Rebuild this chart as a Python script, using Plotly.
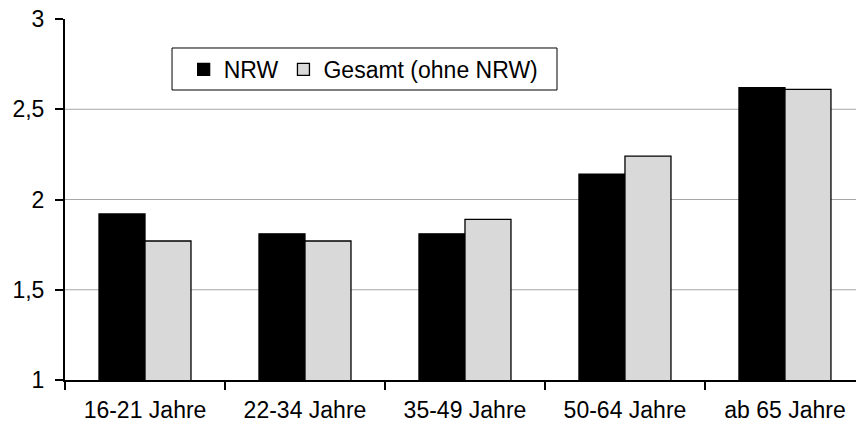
import plotly.graph_objects as go

categories = ["16-21 Jahre", "22-34 Jahre", "35-49 Jahre", "50-64 Jahre", "ab 65 Jahre"]
nrw = [1.92, 1.81, 1.81, 2.14, 2.62]
gesamt = [1.77, 1.77, 1.89, 2.24, 2.61]
y_ticks = [1, 1.5, 2, 2.5, 3]
series_names = ["NRW", "Gesamt (ohne NRW)"]

FONT = "Liberation Sans, Arial, sans-serif"
FS = 23

fig = go.Figure()
fig.add_trace(go.Bar(x=categories, y=nrw, name=series_names[0],
                     marker=dict(color="#000000", line=dict(color="#000000", width=1.3))))
fig.add_trace(go.Bar(x=categories, y=gesamt, name=series_names[1],
                     marker=dict(color="#d9d9d9", line=dict(color="#000000", width=1.3))))

# horizontal gridlines (inner ticks only, as in the reference)
for v in y_ticks[1:-1]:
    fig.add_shape(type="line", xref="paper", yref="y", x0=0, x1=1, y0=v, y1=v,
                  line=dict(color="#a6a6a6", width=1), layer="below")

# legend frame
fig.add_shape(type="rect", xref="paper", yref="paper", x0=0.1353, x1=0.622,
              y0=0.8033, y1=0.9197, line=dict(color="#000000", width=1),
              fillcolor="white", layer="above")

fig.update_layout(
    width=856, height=423,
    margin=dict(l=65, r=0, t=19, b=43),
    paper_bgcolor="white", plot_bgcolor="white",
    font=dict(family=FONT, size=FS, color="#000000"),
    separators=",.",
    barmode="group", bargap=0.425, bargroupgap=0,
    showlegend=True,
    legend=dict(orientation="h", x=0.150, y=0.92, xanchor="left", yanchor="top",
                bgcolor="rgba(0,0,0,0)", borderwidth=0,
                font=dict(family=FONT, size=FS), traceorder="normal",
                itemwidth=30),
    xaxis=dict(type="category", range=[-0.5, 4.444], showgrid=False,
               showline=True, linecolor="#000000", linewidth=2,
               ticks="outside", tickson="boundaries", ticklen=8, tickwidth=1.5,
               tickcolor="#000000", ticklabelstandoff=8, fixedrange=True),
    yaxis=dict(range=[1, 3], tickvals=y_ticks, showgrid=False, zeroline=False,
               showline=True, linecolor="#000000", linewidth=2,
               ticks="outside", ticklen=8, tickwidth=1.5, tickcolor="#000000",
               ticklabelstandoff=6, fixedrange=True),
)

fig.write_html("out.html")
